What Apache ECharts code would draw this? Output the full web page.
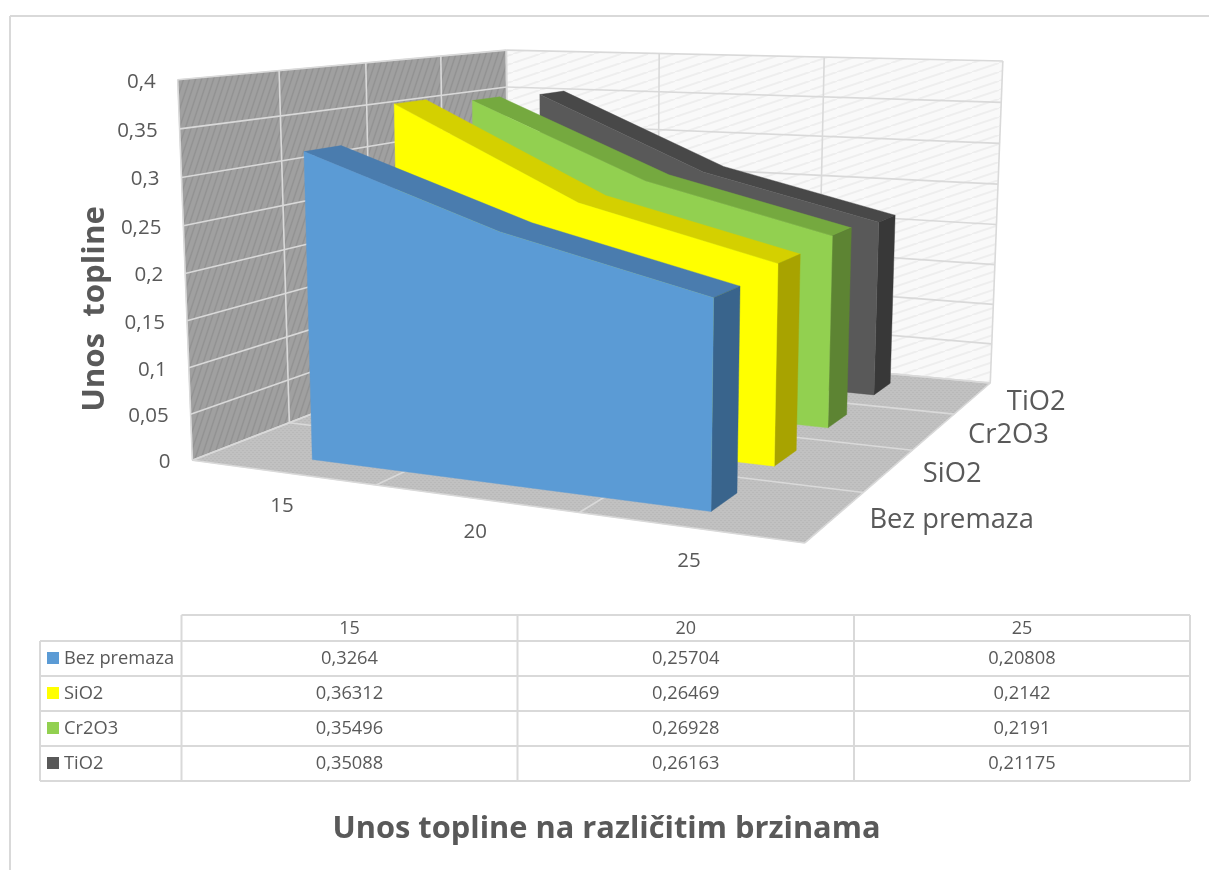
<!DOCTYPE html>
<html>
<head>
<meta charset="utf-8">
<style>html,body{margin:0;padding:0;background:#fff}#c{width:1209px;height:870px}</style>
<script src="https://cdn.jsdelivr.net/npm/echarts@6/dist/echarts.min.js"></script>
</head>
<body>
<div id="c"></div>
<script>
// ---- data ----
const categories = ['15', '20', '25'];
const seriesNames = ['Bez premaza', 'SiO2', 'Cr2O3', 'TiO2'];
const bezPremaza = [0.3264, 0.25704, 0.20808];
const sio2 = [0.36312, 0.26469, 0.2142];
const cr2o3 = [0.35496, 0.26928, 0.2191];
const tio2 = [0.35088, 0.26163, 0.21175];
const yTicks = [0, 0.05, 0.1, 0.15, 0.2, 0.25, 0.3, 0.35, 0.4];
const seriesValues = [bezPremaza, sio2, cr2o3, tio2];
const frontColors = ['#5b9bd5', '#ffff00', '#92d050', '#595959'];
const topColors = ['#4a7cae', '#d4d000', '#75a93f', '#484848'];
const sideColors = ['#39648c', '#a8a300', '#5d8433', '#383838'];
const textColor = '#595959';
const lineColor = '#d9d9d9';
const font = '"Open Sans", sans-serif';

// ---- perspective camera: fitted to the box corners, (u, v, w) in the unit cube ----
const cameraFit = [
  [0, 0, 0, 192, 460], [1, 0, 0, 805, 543], [0, 0, 1, 509, 338], [1, 0, 1, 990, 383],
  [0, 1, 0, 178, 80], [0, 1, 1, 506, 50], [1, 1, 1, 1003, 61]
];
function solveCamera(pts) {
  const rows = [], rhs = [];
  pts.forEach(([u, v, w, x, y]) => {
    rows.push([u, v, w, 1, 0, 0, 0, 0, -x * u, -x * v, -x * w]); rhs.push(x);
    rows.push([0, 0, 0, 0, u, v, w, 1, -y * u, -y * v, -y * w]); rhs.push(y);
  });
  const n = 11, A = [];
  for (let i = 0; i < n; i++) {
    A.push([]);
    for (let j = 0; j < n; j++) { let s = 0; rows.forEach(r => s += r[i] * r[j]); A[i].push(s); }
    let s = 0; rows.forEach((r, k) => s += r[i] * rhs[k]); A[i].push(s);
  }
  for (let i = 0; i < n; i++) {
    let p = i; for (let k = i + 1; k < n; k++) if (Math.abs(A[k][i]) > Math.abs(A[p][i])) p = k;
    [A[i], A[p]] = [A[p], A[i]];
    for (let k = 0; k < n; k++) if (k !== i) {
      const f = A[k][i] / A[i][i];
      for (let j = i; j <= n; j++) A[k][j] -= f * A[i][j];
    }
  }
  return A.map((r, i) => r[n] / r[i]);
}
const P = solveCamera(cameraFit);
function project(u, v, w) {
  const d = P[8] * u + P[9] * v + P[10] * w + 1;
  return [(P[0] * u + P[1] * v + P[2] * w + P[3]) / d, (P[4] * u + P[5] * v + P[6] * w + P[7]) / d];
}

// hidden grid: its scales turn category index / value into the unit cube
const gridBox = { left: 0, top: 0, width: 600, height: 400 };
function toUnit(api, cat, val) {
  const c = api.coord([cat, val]);
  return [(c[0] - gridBox.left) / gridBox.width, (gridBox.top + gridBox.height - c[1]) / gridBox.height];
}
const bandDepth = 1 / seriesNames.length;
const faceFront = 0.31, faceBack = 0.7;

// ---- wall textures ----
function hatch(w, h, bg, fg, lw) {
  const c = document.createElement('canvas'); c.width = w; c.height = h;
  const g = c.getContext('2d');
  g.fillStyle = bg; g.fillRect(0, 0, w, h);
  g.strokeStyle = fg; g.lineWidth = lw;
  for (let i = -1; i <= 1; i++) {
    g.beginPath(); g.moveTo(i * w, h); g.lineTo(i * w + w, 0); g.stroke();
  }
  return { image: c, repeat: 'repeat' };
}
function dots(bg, fg) {
  const c = document.createElement('canvas'); c.width = 4; c.height = 4;
  const g = c.getContext('2d');
  g.fillStyle = bg; g.fillRect(0, 0, 4, 4);
  g.fillStyle = fg; g.fillRect(0, 0, 2, 1); g.fillRect(2, 2, 2, 1);
  return { image: c, repeat: 'repeat' };
}
const leftFill = hatch(6, 18, '#a0a0a0', '#939393', 1.6);
const backFill = hatch(27, 9, '#f9f9f9', '#eeeeee', 2);
const floorFill = dots('#c1c1c1', '#b9b9b9');

function poly(points, fill) {
  return { type: 'polygon', shape: { points }, style: { fill, stroke: fill, lineWidth: 0.4 } };
}
function seg(a, b, w) {
  return { type: 'line', shape: { x1: a[0], y1: a[1], x2: b[0], y2: b[1] }, style: { stroke: lineColor, lineWidth: w || 1.6 } };
}
function label(x, y, text, size, align) {
  return { type: 'text', style: { x, y, text, fill: textColor, fontSize: size, fontFamily: font, textAlign: align || 'center', textVerticalAlign: 'middle' } };
}

// ---- walls, floor, gridlines and axis labels ----
function renderBox(params, api) {
  if (params.dataIndex !== 0) return null;
  const ch = [];
  const top = toUnit(api, 0, 0.4)[1];
  ch.push(poly([project(0, 0, 0), project(0, 0, 1), project(0, 1, 1), project(0, 1, 0)], leftFill));
  ch.push(poly([project(0, 0, 1), project(1, 0, 1), project(1, 1, 1), project(0, 1, 1)], backFill));
  ch.push(poly([project(0, 0, 0), project(1, 0, 0), project(1, 0, 1), project(0, 0, 1)], floorFill));
  yTicks.forEach(t => {
    const v = toUnit(api, 0, t)[1];
    ch.push(seg(project(0, v, 0), project(0, v, 1)));
    ch.push(seg(project(0, v, 1), project(1, v, 1)));
    const p = project(0, v, 0);
    ch.push(label(p[0] - 22, p[1] + 2, String(t).replace('.', ','), 20.5, 'right'));
  });
  for (let i = 0; i <= seriesNames.length; i++) {
    const w = i * bandDepth;
    ch.push(seg(project(0, 0, w), project(0, top, w)));
    ch.push(seg(project(0, 0, w), project(1, 0, w)));
  }
  for (let i = 0; i <= categories.length; i++) {
    const u = i / categories.length;
    ch.push(seg(project(u, 0, 0), project(u, 0, 1)));
    ch.push(seg(project(u, 0, 1), project(u, top, 1)));
  }
  categories.forEach((c, i) => {
    const p = project(toUnit(api, i, 0)[0], 0, 0);
    ch.push(label(p[0], p[1] + 34, c, 20.5));
  });
  seriesNames.forEach((n, i) => {
    const p = project(1, 0, (i + 0.5) * bandDepth);
    ch.push(label(p[0] + 34, p[1] + 4, n, 27.3, 'left'));
  });
  return { type: 'group', children: ch };
}

// ---- one extruded area per series ----
function renderArea(s) {
  return function (params, api) {
    if (params.dataIndex !== 0) return null;
    const w0 = (s + faceFront) * bandDepth, w1 = (s + faceBack) * bandDepth;
    const pts = categories.map((c, i) => toUnit(api, i, api.value(1, i)));
    const u0 = pts[0][0], uN = pts[pts.length - 1][0];
    const front = [project(u0, 0, w0)].concat(pts.map(p => project(p[0], p[1], w0)), [project(uN, 0, w0)]);
    const topFace = pts.map(p => project(p[0], p[1], w0)).concat(pts.slice().reverse().map(p => project(p[0], p[1], w1)));
    const last = pts[pts.length - 1];
    const side = [project(uN, 0, w0), project(uN, last[1], w0), project(uN, last[1], w1), project(uN, 0, w1)];
    return { type: 'group', children: [poly(topFace, topColors[s]), poly(side, sideColors[s]), poly(front, frontColors[s])] };
  };
}

// ---- data table, frame and titles ----
const colX = [40, 181.5, 517.5, 854, 1190];
const rowY = [615, 641, 676, 711, 746, 781];
const g = [];
function gLine(x1, y1, x2, y2) {
  g.push({ type: 'line', shape: { x1, y1, x2, y2 }, style: { stroke: lineColor, lineWidth: 2 }, silent: true });
}
function gText(x, y, text, size, align, weight, rot) {
  g.push({ type: 'text', x, y, rotation: rot || 0, style: { x: 0, y: 0, text, fill: textColor, fontSize: size, fontFamily: font, fontWeight: weight || 'normal', textAlign: align || 'center', textVerticalAlign: 'middle' }, silent: true });
}
gLine(10, 16, 1209, 16); gLine(10, 16, 10, 870);
gLine(colX[1], rowY[0], colX[4], rowY[0]);
for (let r = 1; r < rowY.length; r++) gLine(colX[0], rowY[r], colX[4], rowY[r]);
gLine(colX[0], rowY[1], colX[0], rowY[5]);
for (let c = 1; c < colX.length; c++) gLine(colX[c], rowY[0], colX[c], rowY[5]);
categories.forEach((c, i) => gText((colX[i + 1] + colX[i + 2]) / 2, (rowY[0] + rowY[1]) / 2 + 1, c, 18));
seriesNames.forEach((n, s) => {
  const y = (rowY[s + 1] + rowY[s + 2]) / 2;
  g.push({ type: 'rect', shape: { x: 47, y: y - 6.5, width: 12, height: 12 }, style: { fill: frontColors[s] }, silent: true });
  gText(64, y, n, 18.3, 'left');
  seriesValues[s].forEach((v, i) => gText((colX[i + 1] + colX[i + 2]) / 2, y, String(v).replace('.', ','), 18.3));
});
gText(606.5, 829, 'Unos topline na različitim brzinama', 30.8, 'center', 'bold');
gText(95, 309, 'Unos  topline', 31.2, 'center', 'bold', Math.PI / 2);

const chart = echarts.init(document.getElementById('c'), null, { renderer: 'canvas' });
const oneRow = categories.map((c, i) => [i, 0]);
const series = [{ type: 'custom', coordinateSystem: 'cartesian2d', renderItem: renderBox, data: oneRow, silent: true, clip: false }];
for (let s = seriesNames.length - 1; s >= 0; s--) {
  series.push({
    type: 'custom', name: seriesNames[s], coordinateSystem: 'cartesian2d', renderItem: renderArea(s),
    data: seriesValues[s].map((v, i) => [i, v]), silent: true, clip: false
  });
}
chart.setOption({
  animation: false,
  backgroundColor: '#ffffff',
  grid: Object.assign({ show: false }, gridBox),
  xAxis: { type: 'category', data: categories, show: false },
  yAxis: { type: 'value', min: 0, max: 0.4, interval: 0.05, show: false },
  graphic: { elements: g },
  series
});
</script>
</body>
</html>
